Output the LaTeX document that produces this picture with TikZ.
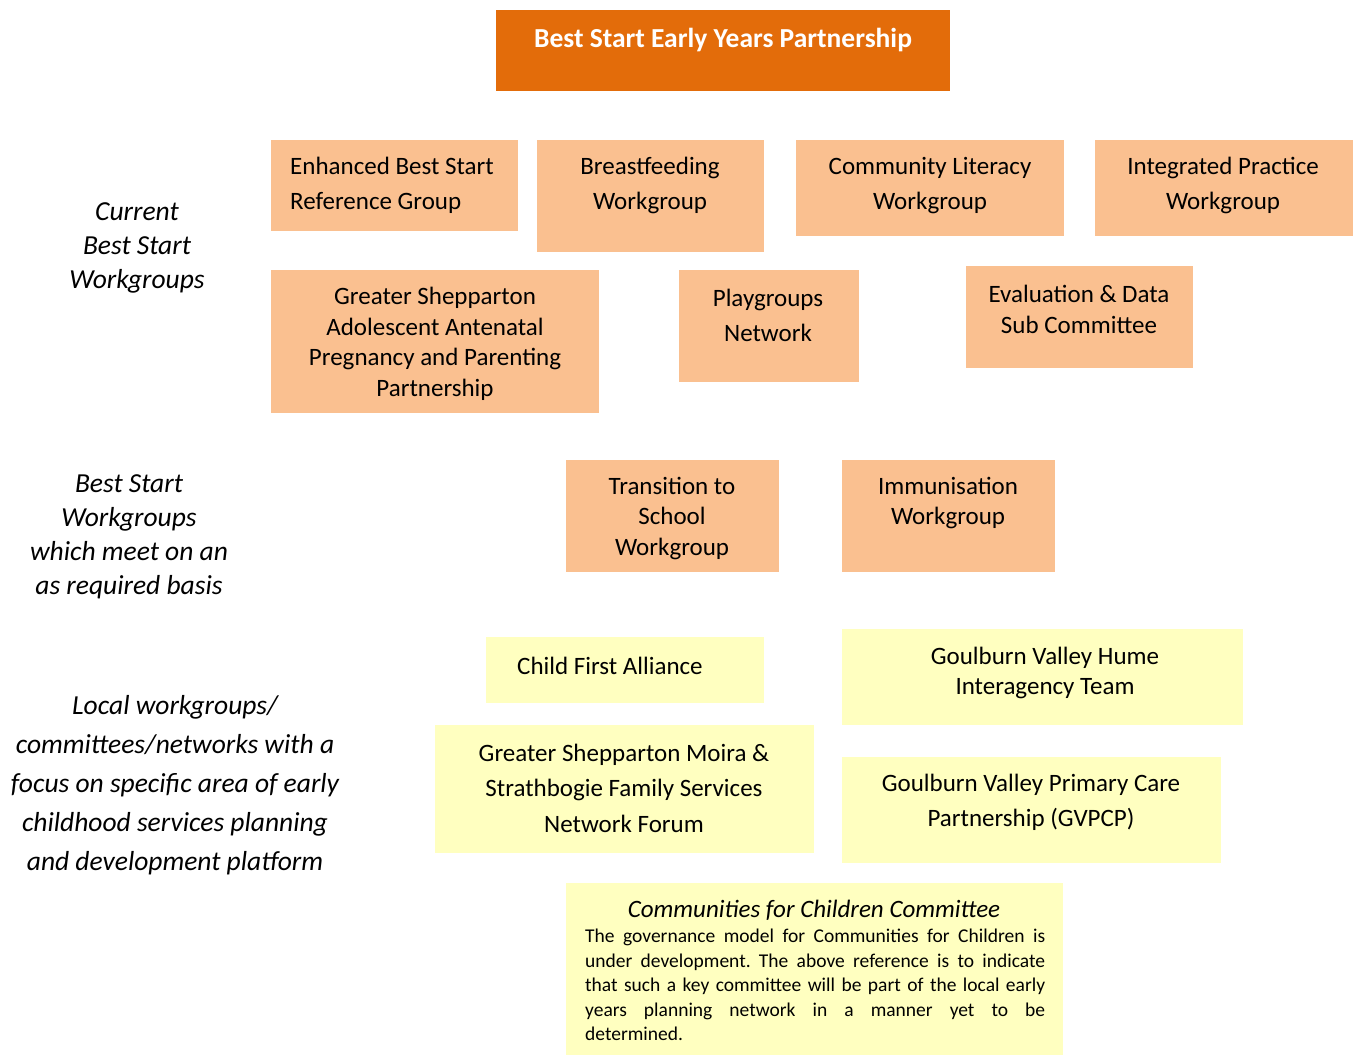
\documentclass[tikz,border=0pt]{standalone}
\usepackage{fontspec}
\setmainfont{Carlito}
\definecolor{topor}{HTML}{E36C0A}
\definecolor{lightor}{HTML}{FAC090}
\definecolor{lightyel}{HTML}{FFFFC0}
\begin{document}
\begin{tikzpicture}[x=1pt,y=-1pt,
  orbox/.style={fill=lightor},
  yelbox/.style={fill=lightyel},
  txt/.style={inner sep=0pt, align=center},
  fa/.style={font=\fontsize{25}{35}\selectfont},
  fb/.style={font=\fontsize{25}{30.5}\selectfont},
  lab/.style={inner sep=0pt, align=center, font=\fontsize{27.5}{34}\selectfont\itshape},
]
\path[use as bounding box] (0,0) rectangle (1357,1055);
% title
\fill[topor] (496,10) rectangle (950,91);
\node[txt, text=white, font=\fontsize{27.5}{30}\selectfont\bfseries] (title) at (723,40) {Best Start Early Years Partnership};
% current workgroups
\fill[orbox] (271,140) rectangle (518,231);
\node[txt, fa, align=left, anchor=west] (ebs) at (290,185.5) {Enhanced Best Start\\Reference Group};
\fill[orbox] (537,140) rectangle (764,252);
\node[txt, fa] (bf) at (650,185.5) {Breastfeeding\\Workgroup};
\fill[orbox] (796,140) rectangle (1064,236);
\node[txt, fa] (cl) at (930,185.5) {Community Literacy\\Workgroup};
\fill[orbox] (1095,140) rectangle (1353,236);
\node[txt, fa] (ip) at (1223,185.5) {Integrated Practice\\Workgroup};
\fill[orbox] (271,270) rectangle (599,413);
\node[txt, fb] (gs) at (435,344) {Greater Shepparton\\Adolescent Antenatal\\Pregnancy and Parenting\\Partnership};
\fill[orbox] (679,270) rectangle (859,382);
\node[txt, fa] (pg) at (768,315) {Playgroups\\Network};
\fill[orbox] (966,266) rectangle (1193,368);
\node[txt, font=\fontsize{25}{31}\selectfont] (ev) at (1079,309) {Evaluation \& Data\\Sub Committee};
% as required
\fill[orbox] (566,460) rectangle (779,572);
\node[txt, fb] (ts) at (672,518) {Transition to\\School\\Workgroup};
\fill[orbox] (842,460) rectangle (1055,572);
\node[txt, font=\fontsize{25}{30}\selectfont] (im) at (948,502.5) {Immunisation\\Workgroup};
% local
\fill[yelbox] (486,637) rectangle (764,703);
\node[txt, fa] (cfa) at (610,665.5) {Child First Alliance};
\fill[yelbox] (842,629) rectangle (1243,725);
\node[txt, font=\fontsize{25}{30}\selectfont] (gvh) at (1045,672.5) {Goulburn Valley Hume\\Interagency Team};
\fill[yelbox] (435,725) rectangle (814,853);
\node[txt, font=\fontsize{25}{35.5}\selectfont] (gsm) at (624,788) {Greater Shepparton Moira \&\\Strathbogie Family Services\\Network Forum};
\fill[yelbox] (842,757) rectangle (1221,863);
\node[txt, fa] (gvp) at (1031,802) {Goulburn Valley Primary Care\\Partnership (GVPCP)};
\fill[yelbox] (566,883) rectangle (1063,1055);
\node[txt, font=\fontsize{25}{28}\selectfont\itshape] (cfc) at (814,910) {Communities for Children Committee};
\node[inner sep=0pt, text width=460pt, align=justify, anchor=north west, font=\fontsize{19.5}{24.5}\selectfont\frenchspacing] (cfcp) at (585,929) {The governance model for Communities for Children is\linebreak under development. The above reference is to indicate\linebreak that such a key committee will be part of the local early\linebreak years planning network in a manner yet to be\linebreak determined.};
% left labels
\node[lab] (l1) at (137,248) {Current\\Best Start\\Workgroups};
\node[lab] (l2) at (129,536.5) {Best Start\\Workgroups\\which meet on an\\as required basis};
\node[lab, font=\fontsize{27.5}{39}\selectfont\itshape] (l3) at (175,785.5) {Local workgroups/\\committees/networks with a\\focus on specific area of early\\childhood services planning\\and development platform};
\end{tikzpicture}
\end{document}
